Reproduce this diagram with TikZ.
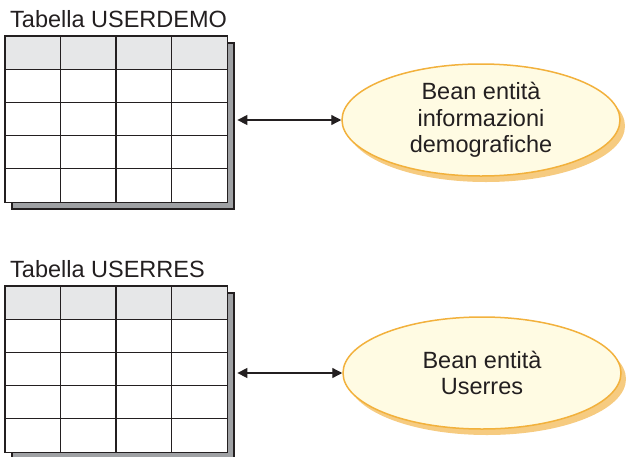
\documentclass[tikz,border=0pt]{standalone}
\usepackage{fontspec}
\setmainfont{Liberation Sans}
\usetikzlibrary{shapes.geometric,arrows.meta,shadows}

\definecolor{inkgray}{HTML}{231F20}
\definecolor{headgray}{HTML}{E6E7E8}
\definecolor{tableshade}{HTML}{9FA1A4}
\definecolor{beanfill}{HTML}{FFFBE3}
\definecolor{beanedge}{HTML}{F2B13C}
\definecolor{beanshade}{HTML}{F6CB80}

\tikzset{
  title/.style={anchor=base west, inner sep=0pt, text=inkgray,
    font=\fontsize{23.5}{26.5}\selectfont},
  tablebox/.style={rectangle, fill=white, inner sep=0pt,
    minimum width=222pt, minimum height=166pt, anchor=north west},
  gridline/.style={draw=inkgray, line width=1.2pt},
  tshadow/.style={fill=tableshade, draw=inkgray, line width=1.2pt},
  bean/.style={ellipse, draw=beanedge, line width=1.5pt, fill=beanfill,
    minimum width=278pt, minimum height=112pt, inner sep=0pt,
    align=center, text=inkgray,
    font=\fontsize{23.5}{26.5}\selectfont,
    drop shadow={shadow xshift=5pt, shadow yshift=-6pt,
      fill=beanshade, opacity=1}},
  link/.style={draw=inkgray, line width=1.3pt,
    {Triangle[length=10pt,width=10pt]}-{Triangle[length=10pt,width=10pt]}}
}

\begin{document}
\begin{tikzpicture}[x=1pt, y=-1pt]
  \useasboundingbox (0,0) rectangle (630,456);

  % table titles
  \node[title] (lab1) at (10,27) {Tabella USERDEMO};
  \node[title] (lab2) at (10,277) {Tabella USERRES};

  % tables: shadow, body, header row, grid
  \foreach \t/\top in {t1/36, t2/286} {
    \fill[tshadow] (12,\top+7) rectangle (234,\top+173);
    \draw[tshadow] (12,\top+7) rectangle (234,\top+173);
    \node[tablebox] (\t) at (5,\top) {};
    \fill[headgray] (\t.north west) rectangle ([yshift=-33.2pt]\t.north east);
    \foreach \i in {1,2,3}
      \draw[gridline] ([xshift=\i*55.5pt]\t.north west) -- ([xshift=\i*55.5pt]\t.south west);
    \foreach \j in {1,...,4}
      \draw[gridline] ([yshift=-\j*33.2pt]\t.north west) -- ([yshift=-\j*33.2pt]\t.north east);
    \draw[gridline] (\t.north west) rectangle (\t.south east);
  }

  % entity beans
  \node[bean] (e1) at (481,120) {Bean entità\\informazioni\\demografiche};
  \node[bean] (e2) at (482,373) {Bean entità\\Userres};

  % connectors
  \coordinate (a1) at ([xshift=10pt]t1.east);
  \coordinate (a2) at ([xshift=10pt]t2.east);
  \draw[link] (a1 |- e1.west) -- (e1.west);
  \draw[link] (a2 |- e2.west) -- (e2.west);
\end{tikzpicture}
\end{document}
